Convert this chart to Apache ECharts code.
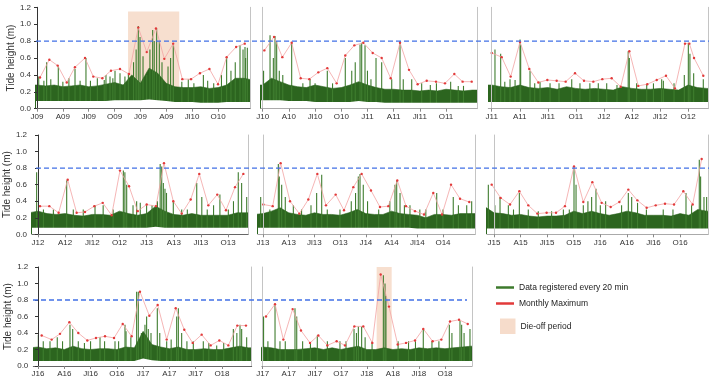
<!DOCTYPE html>
<html><head><meta charset="utf-8">
<script src="https://cdn.jsdelivr.net/npm/echarts@6/dist/echarts.min.js"></script>
<style>html,body{margin:0;padding:0;background:#fff}#c{width:709px;height:380px}</style>
</head><body><div id="c"></div>
<script>
// ---------------- DATA ----------------
const threshold = 0.8;
const yAxisTitle = 'Tide height (m)';
const legendNames = ['Data registered every 20 min', 'Monthly Maximum', 'Die-off period'];
const tickMonths = [0, 3, 6, 9, 12, 15, 18, 21];

const labels_1_1 = ['J09','A09','Jl09','O09','J09','A09','Jl10','O10'];
const labels_1_2 = ['J10','A10','Jl10','O10','J11','A11','Jl11','O11'];
const labels_1_3 = ['J11','A11','Jl11','O11','J12','A12','Jl12','O12'];
const labels_2_1 = ['J12','A12','Jl12','O12','J13','A13','Jl13','O13'];
const labels_2_2 = ['J13','A13','Jl13','O13','J14','A14','Jl14','O14'];
const labels_2_3 = ['J15','A15','Jl15','O15','J16','A16','Jl16','O16'];
const labels_3_1 = ['J16','A16','Jl16','O16','J17','A17','Jl17','O18'];
const labels_3_2 = ['J17','A17','Jl17','O17','J18','A18','Jl18','O18'];

// monthly maximum: [month, height]
const red_1_1 = [[0.35,0.37],[1.43,0.58],[2.4,0.51],[3.45,0.31],[4.4,0.49],[5.57,0.60],[6.53,0.38],[7.58,0.36],[8.58,0.45],[9.63,0.47],[10.67,0.41],[11.75,0.96],[12.73,0.67],[13.8,0.95],[14.77,0.59],[15.8,0.77],[16.86,0.35],[17.87,0.35],[18.9,0.42],[20.0,0.47],[21.0,0.29],[22.0,0.61],[23.1,0.73],[24.1,0.77]];
const red_1_2 = [[0.19,0.69],[1.3,0.85],[2.25,0.61],[3.32,0.78],[4.35,0.36],[5.34,0.35],[6.37,0.43],[7.4,0.48],[8.47,0.30],[9.46,0.63],[10.5,0.75],[11.53,0.78],[12.6,0.66],[13.63,0.60],[14.66,0.36],[15.73,0.78],[16.76,0.46],[17.75,0.29],[18.79,0.33],[19.85,0.32],[20.88,0.30],[21.95,0.41],[22.9,0.32],[23.94,0.32]];
const red_1_3 = [[0.0,0.66],[1.07,0.61],[2.03,0.38],[3.03,0.79],[4.02,0.47],[4.99,0.31],[5.95,0.34],[6.95,0.33],[7.91,0.32],[8.91,0.42],[9.87,0.33],[10.87,0.32],[11.83,0.35],[12.83,0.36],[13.8,0.26],[14.72,0.68],[15.68,0.27],[16.64,0.29],[17.65,0.34],[18.64,0.39],[19.6,0.24],[20.67,0.77],[21.14,0.77],[21.64,0.60],[22.63,0.39]];
const red_2_1 = [[0.22,0.34],[1.25,0.34],[2.28,0.26],[3.28,0.66],[4.27,0.26],[5.19,0.27],[6.22,0.34],[7.15,0.38],[8.14,0.23],[9.06,0.77],[10.06,0.58],[11.01,0.28],[12.01,0.36],[13.04,0.34],[13.92,0.86],[14.95,0.40],[15.88,0.25],[16.87,0.42],[17.82,0.73],[18.82,0.35],[19.81,0.48],[20.77,0.29],[21.77,0.57],[22.69,0.73]];
const red_2_2 = [[0.04,0.36],[1.13,0.34],[2.06,0.86],[3.15,0.40],[4.24,0.25],[5.29,0.42],[6.34,0.73],[7.35,0.35],[8.48,0.48],[9.45,0.29],[10.54,0.57],[11.51,0.73],[12.6,0.53],[13.65,0.33],[14.62,0.34],[15.67,0.65],[16.69,0.34],[17.74,0.28],[18.79,0.24],[19.87,0.50],[20.89,0.24],[21.94,0.60],[22.99,0.43],[24.07,0.39]];
const red_2_3 = [[-0.26,0.60],[0.75,0.44],[1.81,0.36],[2.86,0.52],[3.87,0.35],[4.89,0.25],[5.94,0.26],[7.0,0.26],[8.01,0.34],[9.03,0.82],[10.08,0.39],[11.1,0.63],[12.15,0.38],[13.17,0.33],[14.15,0.39],[15.16,0.54],[16.18,0.41],[17.23,0.32],[18.25,0.35],[19.3,0.37],[20.32,0.36],[21.37,0.52],[22.42,0.36],[23.44,0.91]];
const red_3_1 = [[0.42,0.37],[1.56,0.32],[2.51,0.39],[3.58,0.53],[4.6,0.40],[5.63,0.31],[6.62,0.34],[7.65,0.36],[8.68,0.34],[9.67,0.51],[10.69,0.36],[11.64,0.90],[12.71,0.61],[13.66,0.74],[14.69,0.32],[15.72,0.70],[16.7,0.44],[17.66,0.28],[18.68,0.38],[19.71,0.25],[20.7,0.31],[21.73,0.25],[22.75,0.49],[23.74,0.49]];
const red_3_2 = [[0.38,0.60],[1.42,0.75],[2.38,0.32],[3.45,0.69],[4.41,0.43],[5.45,0.28],[6.41,0.37],[7.45,0.25],[8.52,0.30],[9.48,0.25],[10.56,0.48],[11.59,0.48],[12.63,0.28],[13.59,1.11],[14.55,0.72],[15.55,0.26],[16.51,0.28],[17.55,0.31],[18.5,0.45],[19.58,0.30],[20.58,0.32],[21.58,0.54],[22.62,0.56],[23.62,0.51]];

// 20-min record: dense band (upper / lower envelope, one value per month starting at month -1)
const hi_1_1 = [0.28,0.28,0.27,0.28,0.26,0.27,0.28,0.26,0.27,0.29,0.31,0.28,0.40,0.30,0.48,0.42,0.30,0.26,0.25,0.25,0.26,0.24,0.25,0.28,0.36,0.36,0.34];
const lo_1_1 = [0.09,0.09,0.09,0.09,0.09,0.09,0.09,0.09,0.09,0.09,0.10,0.10,0.10,0.10,0.11,0.10,0.09,0.08,0.08,0.08,0.07,0.07,0.07,0.08,0.08,0.08,0.08];
const hi_1_2 = [0.28,0.28,0.36,0.32,0.28,0.26,0.25,0.28,0.26,0.24,0.25,0.28,0.32,0.28,0.25,0.23,0.23,0.22,0.22,0.21,0.22,0.21,0.23,0.22,0.21,0.22,0.22];
const lo_1_2 = [0.10,0.10,0.10,0.10,0.09,0.09,0.09,0.08,0.08,0.08,0.08,0.08,0.09,0.08,0.08,0.07,0.07,0.07,0.07,0.07,0.07,0.07,0.07,0.07,0.07,0.07,0.07];
const hi_1_3 = [0.28,0.28,0.26,0.25,0.28,0.25,0.24,0.25,0.23,0.26,0.24,0.23,0.24,0.23,0.22,0.26,0.24,0.23,0.23,0.24,0.23,0.22,0.28,0.25,0.24,0.24];
const lo_1_3 = [0.08,0.08,0.08,0.08,0.08,0.08,0.08,0.08,0.08,0.08,0.08,0.08,0.08,0.08,0.08,0.08,0.08,0.08,0.08,0.08,0.08,0.08,0.08,0.08,0.08,0.08];
const hi_2_1 = [0.26,0.28,0.25,0.24,0.25,0.23,0.22,0.24,0.24,0.23,0.28,0.25,0.23,0.25,0.34,0.28,0.24,0.23,0.25,0.23,0.23,0.23,0.23,0.26,0.26,0.26];
const lo_2_1 = [0.08,0.08,0.08,0.08,0.08,0.08,0.08,0.08,0.08,0.08,0.08,0.08,0.08,0.08,0.09,0.08,0.08,0.08,0.08,0.08,0.08,0.08,0.08,0.08,0.08,0.08];
const hi_2_2 = [0.24,0.25,0.28,0.32,0.26,0.24,0.23,0.26,0.24,0.24,0.23,0.26,0.30,0.25,0.24,0.24,0.28,0.25,0.24,0.23,0.20,0.24,0.24,0.23,0.25,0.25,0.25];
const lo_2_2 = [0.08,0.08,0.08,0.08,0.08,0.08,0.08,0.08,0.08,0.08,0.08,0.08,0.08,0.08,0.08,0.08,0.08,0.08,0.08,0.07,0.07,0.07,0.07,0.07,0.07,0.07,0.07];
const hi_2_3 = [0.33,0.26,0.25,0.23,0.24,0.22,0.21,0.22,0.22,0.23,0.28,0.25,0.28,0.25,0.23,0.25,0.28,0.26,0.23,0.23,0.23,0.22,0.25,0.23,0.30,0.28,0.28];
const lo_2_3 = [0.07,0.07,0.07,0.07,0.07,0.07,0.07,0.07,0.07,0.07,0.07,0.07,0.07,0.07,0.07,0.07,0.07,0.07,0.07,0.07,0.07,0.07,0.07,0.07,0.07,0.07,0.07];
const hi_3_1 = [0.22,0.23,0.21,0.22,0.20,0.24,0.21,0.20,0.21,0.21,0.20,0.23,0.22,0.42,0.26,0.23,0.21,0.23,0.20,0.20,0.21,0.20,0.20,0.22,0.24,0.22,0.22];
const lo_3_1 = [0.06,0.06,0.06,0.06,0.06,0.06,0.06,0.06,0.06,0.06,0.06,0.06,0.06,0.09,0.07,0.06,0.06,0.06,0.06,0.06,0.06,0.06,0.06,0.06,0.06,0.06,0.06];
const hi_3_2 = [0.20,0.23,0.22,0.20,0.20,0.20,0.21,0.22,0.20,0.22,0.20,0.22,0.24,0.20,0.20,0.22,0.20,0.21,0.20,0.22,0.21,0.22,0.21,0.22,0.23,0.24,0.24];
const lo_3_2 = [0.06,0.06,0.06,0.06,0.06,0.06,0.06,0.06,0.06,0.06,0.06,0.06,0.06,0.06,0.06,0.06,0.06,0.06,0.06,0.06,0.06,0.06,0.06,0.06,0.06,0.06,0.06];

// 20-min record: individual peaks [month, height]
const spikes_1_1 = [[1.12,0.55],[2.47,0.5],[4.41,0.47],[5.68,0.6],[8.47,0.38],[9.05,0.45],[9.63,0.42],[11.75,0.98],[11.95,0.85],[12.72,0.40],[13.42,0.93],[13.88,0.95],[14.19,0.80],[15.81,0.75],[17.55,0.35],[19.3,0.40],[22.0,0.60],[23.55,0.75],[24.13,0.73],[24.4,0.72],
 [0.2,0.38],[0.8,0.33],[1.6,0.35],[3.0,0.32],[3.7,0.36],[5.0,0.33],[6.2,0.33],[7.0,0.36],[7.8,0.34],[8.0,0.4],[8.8,0.36],[10.2,0.38],[10.6,0.42],[11.2,0.55],[11.5,0.7],[12.3,0.62],[13.1,0.7],[13.6,0.8],[14.5,0.55],[15.2,0.5],[15.5,0.6],[16.8,0.32],[18.2,0.3],[19.8,0.33],[20.5,0.3],[21.4,0.4],[22.5,0.45],[23.0,0.55],[23.9,0.7],[24.2,0.6]];
const spikes_1_2 = [[0.1,0.45],[0.84,0.87],[1.22,0.6],[1.41,0.86],[1.6,0.8],[3.32,0.78],[5.42,0.35],[7.4,0.45],[9.46,0.60],[11.15,0.76],[11.34,0.78],[11.72,0.75],[12.98,0.6],[13.63,0.55],[14.78,0.35],[15.73,0.80],[17.07,0.35],[18.21,0.3],[21.53,0.32],[22.4,0.27],
 [1.9,0.45],[2.3,0.4],[4.6,0.3],[6.0,0.3],[8.0,0.3],[10.2,0.45],[10.6,0.55],[12.0,0.45],[12.4,0.35],[16.1,0.35],[19.2,0.28],[19.9,0.3],[23.0,0.27]];
const spikes_1_3 = [[0.35,0.7],[0.96,0.65],[1.96,0.35],[3.03,0.82],[3.1,0.75],[4.1,0.45],[5.17,0.32],[6.24,0.3],[8.56,0.35],[9.44,0.3],[12.3,0.3],[14.6,0.68],[14.72,0.6],[16.58,0.28],[18.18,0.35],[18.36,0.33],[21.03,0.78],[21.2,0.65],[22.63,0.35],
 [1.4,0.32],[2.5,0.34],[4.6,0.3],[7.2,0.3],[10.5,0.3],[11.4,0.3],[13.4,0.28],[15.5,0.3],[17.3,0.3],[19.5,0.3],[20.6,0.4],[21.6,0.42]];
const spikes_2_1 = [[-0.15,0.75],[3.17,0.65],[3.9,0.3],[6.3,0.35],[7.2,0.35],[9.43,0.77],[9.6,0.75],[9.8,0.6],[12.0,0.35],[13.5,0.85],[13.67,0.82],[13.85,0.62],[14.03,0.55],[14.2,0.5],[14.95,0.40],[15.88,0.3],[17.54,0.62],[18.1,0.45],[20.1,0.48],[21.03,0.3],[22.13,0.75],[22.5,0.62],[23.06,0.45],
 [0.6,0.3],[1.7,0.3],[5.0,0.3],[8.3,0.3],[10.5,0.35],[10.9,0.4],[11.3,0.38],[12.6,0.35],[13.2,0.4],[16.5,0.3],[18.7,0.3],[19.4,0.35],[21.6,0.4]];
const spikes_2_2 = [[-0.27,0.45],[1.79,0.85],[1.9,0.7],[2.18,0.6],[3.54,0.35],[6.26,0.5],[6.85,0.72],[8.98,0.3],[11.12,0.7],[11.32,0.73],[11.7,0.6],[15.4,0.6],[15.6,0.65],[15.99,0.5],[17.15,0.35],[18.3,0.3],[20.27,0.5],[22.2,0.45],[23.77,0.35],[24.35,0.4],
 [0.8,0.3],[2.6,0.45],[4.5,0.3],[5.6,0.35],[7.5,0.3],[10.3,0.4],[10.8,0.5],[12.2,0.4],[13.5,0.3],[14.8,0.4],[16.5,0.35],[19.0,0.3],[21.0,0.3],[22.8,0.35]];
const spikes_2_3 = [[-0.64,0.6],[0.68,0.45],[1.62,0.35],[2.86,0.5],[3.87,0.3],[7.83,0.3],[9.03,0.8],[9.26,0.6],[10.08,0.35],[11.02,0.45],[11.51,0.55],[15.16,0.5],[15.54,0.45],[19.1,0.3],[21.67,0.5],[23.17,0.9],[23.32,0.7],[24.0,0.45],
 [0.1,0.35],[2.2,0.3],[5.0,0.28],[6.5,0.28],[8.5,0.3],[10.6,0.4],[12.0,0.35],[12.6,0.4],[14.4,0.35],[16.2,0.38],[17.2,0.3],[20.2,0.3],[22.3,0.35],[23.7,0.45]];
const spikes_3_1 = [[0.04,0.38],[1.37,0.3],[2.2,0.35],[3.65,0.5],[3.96,0.45],[6.0,0.3],[7.08,0.35],[8.79,0.3],[9.93,0.5],[10.05,0.42],[11.26,0.9],[11.45,0.9],[12.21,0.5],[12.4,0.6],[12.59,0.45],[13.62,0.7],[14.69,0.3],[15.83,0.6],[16.02,0.7],[16.4,0.4],[17.73,0.3],[18.87,0.3],[20.4,0.25],[22.3,0.45],[23.06,0.5],[23.25,0.45],[23.82,0.35],
 [0.6,0.3],[2.8,0.3],[4.6,0.3],[5.3,0.28],[7.6,0.3],[9.2,0.3],[10.6,0.35],[11.8,0.4],[12.9,0.4],[13.9,0.4],[15.2,0.32],[17.0,0.3],[19.5,0.28],[21.2,0.28],[22.7,0.4]];
const spikes_3_2 = [[0.1,0.6],[1.42,0.75],[1.99,0.3],[3.72,0.7],[3.92,0.6],[6.29,0.37],[7.45,0.3],[8.9,0.3],[10.52,0.45],[11.02,0.48],[11.4,0.48],[13.9,1.1],[14.09,1.0],[14.2,0.85],[18.5,0.45],[21.5,0.5],[22.73,0.55],[22.92,0.5],[23.88,0.45],
 [0.6,0.3],[2.6,0.3],[4.6,0.3],[5.5,0.28],[9.6,0.3],[10.8,0.4],[11.8,0.35],[12.6,0.3],[15.6,0.3],[16.8,0.3],[17.6,0.3],[19.5,0.3],[20.3,0.3],[21.8,0.4],[23.2,0.4]];

// die-off periods [startMonth, endMonth, top]
const dieoff_1_1 = [10.56, 16.5, 1.15];
const dieoff_3_2 = [13.13, 14.86, 1.2];

// ---------------- LAYOUT ----------------
const rows = [
  {top: 7.3, bottom: 108.7, dashL: 36, dashR: 709},
  {top: 135, bottom: 234.3, dashL: 36, dashR: 709},
  {top: 267, bottom: 366, dashL: 33, dashR: 467}
];
const panels = [
  {row:0, left:36,    right:250, m0:37,    ppm:8.62, first:true,  labels:labels_1_1, red:red_1_1, hi:hi_1_1, lo:lo_1_1, spikes:spikes_1_1, dieoff:dieoff_1_1},
  {row:0, left:261,   right:477, m0:262.7, ppm:8.73, first:false, labels:labels_1_2, red:red_1_2, hi:hi_1_2, lo:lo_1_2, spikes:spikes_1_2},
  {row:0, left:488.3, right:708, m0:491.7, ppm:9.35, first:false, labels:labels_1_3, red:red_1_3, hi:hi_1_3, lo:lo_1_3, spikes:spikes_1_3},
  {row:1, left:32,    right:248, m0:38,    ppm:9.05, first:true,  labels:labels_2_1, red:red_2_1, hi:hi_2_1, lo:lo_2_1, spikes:spikes_2_1},
  {row:1, left:258,   right:475, m0:263,   ppm:8.57, first:false, labels:labels_2_2, red:red_2_2, hi:hi_2_2, lo:lo_2_2, spikes:spikes_2_2},
  {row:1, left:487,   right:708, m0:494,   ppm:8.86, first:false, labels:labels_2_3, red:red_2_3, hi:hi_2_3, lo:lo_2_3, spikes:spikes_2_3},
  {row:2, left:33.3,  right:251.7, m0:38,  ppm:8.76, first:true,  labels:labels_3_1, red:red_3_1, hi:hi_3_1, lo:lo_3_1, spikes:spikes_3_1},
  {row:2, left:261.7, right:472, m0:262.7, ppm:8.68, first:false, labels:labels_3_2, red:red_3_2, hi:hi_3_2, lo:lo_3_2, spikes:spikes_3_2, dieoff:dieoff_3_2}
];

const GREEN = '#2c651f', GREEN2 = '#3f7d2f', PINK = '#f3a3a3', RED = '#e23a3a', PEACH = 'rgba(241,196,168,0.55)', BLUE = '#4170e6';
const FONT = 'Liberation Sans, Arial, sans-serif';

const grid = [], xAxis = [], yAxis = [], series = [];
panels.forEach((p, i) => {
  const r = rows[p.row];
  grid.push({left: p.left, top: r.top, width: p.right - p.left, height: r.bottom - r.top});
  const xMin = (p.left - p.m0) / p.ppm, xMax = (p.right - p.m0) / p.ppm;
  xAxis.push({
    type: 'value', gridIndex: i, min: xMin, max: xMax, z: 5,
    axisLine: {show: true, lineStyle: {color: p.first ? '#666' : '#aaa', width: 1}},
    axisTick: {show: true, customValues: tickMonths, length: 3, lineStyle: {color: '#888'}},
    axisLabel: {customValues: tickMonths, fontSize: 8, color: '#333', margin: 4, fontFamily: FONT,
      formatter: (v) => p.labels[Math.round(v / 3)] || ''},
    splitLine: {show: false}
  });
  const yi = yAxis.length;
  if (p.first) {
    yAxis.push({
      type: 'value', gridIndex: i, min: 0, max: 1.2, interval: 0.2, z: 5,
      name: yAxisTitle, nameLocation: 'middle', nameGap: 20,
      nameTextStyle: {fontSize: 10, color: '#333', fontFamily: FONT},
      axisLine: {show: true, lineStyle: {color: '#333'}},
      axisTick: {show: true, length: 3, lineStyle: {color: '#333'}},
      axisLabel: {fontSize: 8, color: '#333', margin: 5, fontFamily: FONT, formatter: v => v.toFixed(1)},
      splitLine: {show: false}
    });
  } else {
    yAxis.push({
      type: 'value', gridIndex: i, min: 0, max: 1.2, z: 5,
      axisLine: {show: true, lineStyle: {color: '#c4c4c4'}},
      axisTick: {show: false}, axisLabel: {show: false}, splitLine: {show: false}
    });
  }
  yAxis.push({
    type: 'value', gridIndex: i, min: 0, max: 1.2, position: 'right', z: 5,
    axisLine: {show: true, lineStyle: {color: '#c4c4c4'}},
    axisTick: {show: false}, axisLabel: {show: false}, splitLine: {show: false}
  });
  const toPairs = arr => arr.map((v, k) => [k - 1, v]);
  series.push({
    name: legendNames[0], type: 'line', xAxisIndex: i, yAxisIndex: yi, data: toPairs(p.hi),
    showSymbol: false, symbol: 'none', lineStyle: {width: 0.6, color: GREEN}, itemStyle: {color: GREEN},
    areaStyle: {color: GREEN, opacity: 1}, z: 2, silent: true
  });
  series.push({
    name: legendNames[0], type: 'bar', xAxisIndex: i, yAxisIndex: yi, data: p.spikes,
    barWidth: 1.1, itemStyle: {color: GREEN2}, z: 2, silent: true, barGap: '-100%'
  });
  series.push({
    type: 'line', xAxisIndex: i, yAxisIndex: yi, data: toPairs(p.lo),
    showSymbol: false, symbol: 'none', lineStyle: {width: 0, color: '#fff'},
    areaStyle: {color: '#ffffff', opacity: 1}, z: 3, silent: true
  });
  series.push({
    name: legendNames[1], type: 'line', xAxisIndex: i, yAxisIndex: yi, data: p.red,
    symbol: 'circle', symbolSize: 2.4, showSymbol: true,
    lineStyle: {width: 0.8, color: PINK}, itemStyle: {color: RED}, z: 4, silent: true
  });
  if (p.dieoff) {
    series.push({
      name: legendNames[2], type: 'line', xAxisIndex: i, yAxisIndex: yi, data: [],
      itemStyle: {color: '#f6dccb'}, z: 6, silent: true,
      markArea: {silent: true, itemStyle: {color: PEACH},
        data: [[{xAxis: p.dieoff[0], yAxis: 0}, {xAxis: p.dieoff[1], yAxis: p.dieoff[2]}]]}
    });
  }
});
// row-wide threshold lines
rows.forEach((r) => {
  const gi = grid.length;
  grid.push({left: r.dashL, top: r.top, width: r.dashR - r.dashL, height: r.bottom - r.top});
  xAxis.push({type: 'value', gridIndex: gi, min: 0, max: 1, show: false});
  const yi = yAxis.length;
  yAxis.push({type: 'value', gridIndex: gi, min: 0, max: 1.2, show: false});
  series.push({
    type: 'line', xAxisIndex: gi, yAxisIndex: yi, data: [[0, threshold], [1, threshold]],
    symbol: 'none', lineStyle: {color: BLUE, width: 1.4, type: [5, 3]}, z: 8, silent: true
  });
});

const legendText = {fontSize: 8.5, color: '#222', fontFamily: FONT};
const option = {
  animation: false,
  textStyle: {fontFamily: FONT},
  grid, xAxis, yAxis, series,
  legend: [
    {data: [{name: legendNames[0], icon: 'rect', itemStyle: {color: '#3d7a2c'}}], left: 491, top: 278, itemWidth: 18, itemHeight: 2.5, textStyle: legendText, selectedMode: false},
    {data: [{name: legendNames[1], icon: 'rect', itemStyle: {color: RED}}], left: 491, top: 294, itemWidth: 18, itemHeight: 2.5, textStyle: legendText, selectedMode: false},
    {data: [{name: legendNames[2], icon: 'rect', itemStyle: {color: '#f6dccb'}}], left: 495, top: 313.5, itemWidth: 15.5, itemHeight: 15.5, textStyle: legendText, selectedMode: false}
  ]
};
const chart = echarts.init(document.getElementById('c'), null, {renderer: 'canvas'});
chart.setOption(option);
</script>
</body></html>
